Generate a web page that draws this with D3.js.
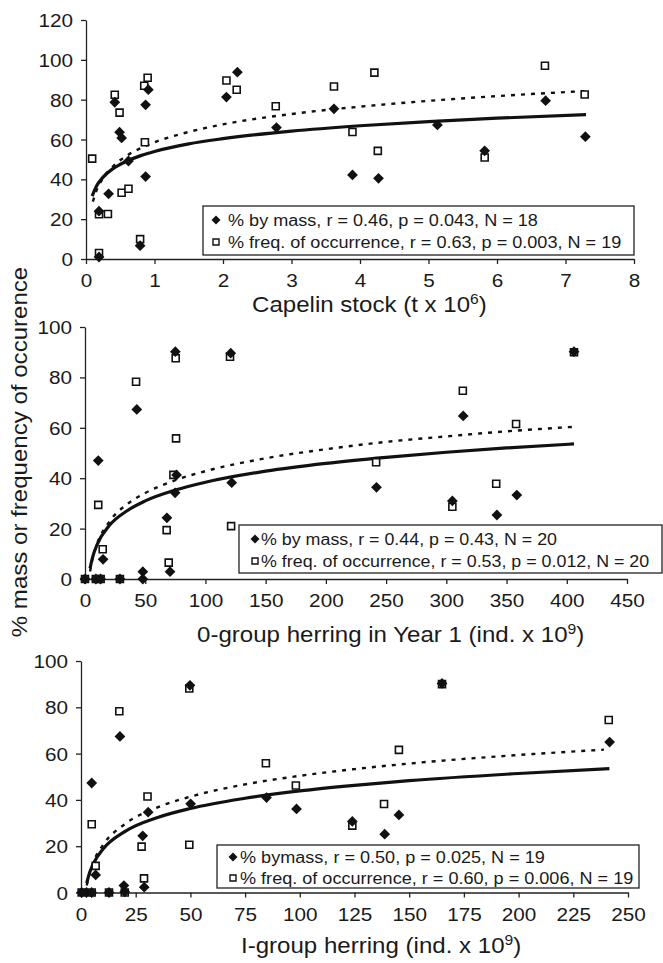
<!DOCTYPE html>
<html>
<head>
<meta charset="utf-8">
<script src="https://cdn.jsdelivr.net/npm/d3@7"></script>
<style>
  body { margin: 0; background: #fff; }
  text { font-family: "Liberation Sans", Arial, sans-serif; fill: #1a1a1a; }
</style>
</head>
<body>
<svg id="chart"></svg>
<script>
// panel 1 : capelin stock
var capMass = [[0.19,1],[0.19,24],[0.33,32.7],[0.42,78.7],[0.49,63.7],[0.52,60.8],[0.62,49.2],[0.79,6.7],
  [0.87,77.4],[0.87,41.4],[0.91,85],[2.05,81.3],[2.21,93.8],[2.78,66],[3.62,75.4],[3.89,42.2],[4.27,40.5],
  [5.13,67.3],[5.82,54.3],[6.71,79.5],[7.29,61.4]];
var capFreq = [[0.09,50.4],[0.19,3],[0.19,22.5],[0.32,22.6],[0.42,82.5],[0.49,73.5],[0.52,33.3],[0.62,35.3],
  [0.79,10],[0.85,87],[0.90,91],[0.86,58.6],[2.05,89.6],[2.2,85],[2.77,76.7],[3.62,86.6],[3.89,63.8],
  [4.21,93.6],[4.26,54.3],[5.82,51],[6.70,97],[7.28,82.6]];
var capMassTrend = [[0.09,31.6],[0.15,36.4],[0.25,41.1],[0.4,45.5],[0.6,49.2],[0.8,51.9],[1,54],[1.5,57.8],
  [2,60.4],[3,64.2],[4,66.9],[5,69],[6,70.7],[7.3,72.5]];
var capFreqTrend = [[0.1,28.8],[0.15,34.1],[0.25,40.7],[0.4,46.7],[0.6,52],[0.8,55.7],[1,58.6],[1.5,63.8],
  [2,67.6],[3,72.8],[4,76.5],[5,79.4],[6,81.8],[7.28,84.3]];

// panel 2 : 0-group herring
var zeroMass = [[0,0],[9,0],[13,0],[29,0],[48,0],[48,2.9],[11,47],[15,7.8],[43,67.3],[68,24.3],[70.6,2.9],
  [74.8,34.2],[76,41.3],[75,90.2],[121,89.6],[121.8,38.2],[242,36.4],[305,31],[314,64.7],[342,25.4],
  [358.5,33.3],[406,90.2]];
var zeroFreq = [[0,0],[9,0],[13,0],[29,0],[11,29.4],[14.7,11.8],[42.4,78.3],[67.8,19.4],[69.5,6.5],[73.4,41.3],
  [75.6,55.8],[75.3,87.6],[120.4,88.2],[121.3,21],[241.7,46.3],[305,28.7],[313.7,74.7],[341.4,37.8],
  [357.9,61.5],[406,90]];
var zeroMassTrend = [[4.2,4.2],[6,8.1],[10,13.6],[20,21.1],[35,27.1],[50,31],[75,35.3],[100,38.4],[150,42.8],
  [200,45.9],[250,48.3],[300,50.3],[350,52],[406,53.6]];
var zeroFreqTrend = [[4.2,3],[6,7.5],[10,13.9],[20,22.6],[35,29.7],[50,34.1],[75,39.2],[100,42.8],[150,47.9],
  [200,51.5],[250,54.4],[300,56.6],[350,58.6],[406,60.4]];

// panel 3 : I-group herring
var oneMass = [[0.3,0],[2.5,0],[4.9,0],[12.8,0],[20,0.3],[4.9,47.3],[6.7,7.6],[17.8,67.4],[19.6,3],[28.2,24.5],
  [28.9,2.3],[30.7,34.7],[49.8,89.5],[50.1,38.3],[84.8,41],[98.5,36.1],[124,30.7],[138.8,25.2],[145.3,33.5],
  [165,90.3],[241.6,65]];
var oneFreq = [[0.3,0],[4.9,0],[12.8,0],[20,0],[4.9,29.5],[6.7,11.5],[17.5,78.3],[27.7,19.8],[28.8,6.1],
  [30.4,41.5],[49.5,88.1],[49.5,20.6],[84.5,55.8],[98.2,46.2],[124,28.9],[138.5,38.2],[145.3,61.6],
  [165,90],[241.2,74.5]];
var oneMassTrend = [[2.6,4],[4,8.7],[6,13.1],[10,18.7],[20,26.3],[35,32.4],[50,36.3],[75,40.7],[100,43.9],
  [125,46.3],[150,48.3],[200,51.4],[241.5,53.5]];
var oneFreqTrend = [[2.6,3],[4,8.6],[6,13.9],[10,20.5],[20,29.5],[35,36.8],[50,41.4],[75,46.7],[100,50.4],
  [125,53.3],[150,55.7],[200,59.4],[239,61.7]];

var capTicksX = [0,1,2,3,4,5,6,7,8], capTicksY = [0,20,40,60,80,100,120];
var zeroTicksX = [0,50,100,150,200,250,300,350,400,450], herTicksY = [0,20,40,60,80,100];
var oneTicksX = [0,25,50,75,100,125,150,175,200,225,250];

var legend1 = ["% by mass, r = 0.46, p = 0.043, N = 18", "% freq. of occurrence, r = 0.63, p = 0.003, N = 19"];
var legend2 = ["% by mass, r = 0.44, p = 0.43, N = 20", "% freq. of occurrence, r = 0.53, p = 0.012, N = 20"];
var legend3 = ["% bymass, r = 0.50, p = 0.025, N = 19", "% freq. of occurrence, r = 0.60, p = 0.006, N = 19"];

var SX = 1.12; // the figure text is a bit stretched sideways

var svg = d3.select("#chart").attr("width", 663).attr("height", 963);
svg.append("rect").attr("width", 663).attr("height", 963).attr("fill", "#fff");

function stretchText(sel, size, sx){
    sx = sx || SX;
    sel.each(function(){
        var t = d3.select(this);
        var x = +t.attr("x") || 0, y = +t.attr("y") || 0;
        t.attr("x", 0).attr("y", 0)
         .attr("transform", "translate(" + x + "," + y + ") scale(" + sx + ",1)")
         .attr("font-size", size).attr("font-family", "Liberation Sans, Arial, sans-serif")
         .attr("fill", "#1a1a1a");
    });
}

function drawPanel(cfg){
    var x = d3.scaleLinear().domain(cfg.xDom).range(cfg.xRange);
    var y = d3.scaleLinear().domain(cfg.yDom).range(cfg.yRange);
    var g = svg.append("g");

    var xAxis = g.append("g")
        .attr("transform", "translate(0," + cfg.yRange[0] + ")")
        .call(d3.axisBottom(x).tickValues(cfg.xTicks).tickSize(5).tickSizeOuter(0).tickPadding(cfg.xPad));
    var yAxis = g.append("g")
        .attr("transform", "translate(" + cfg.xRange[0] + ",0)")
        .call(d3.axisLeft(y).tickValues(cfg.yTicks).tickSize(5).tickSizeOuter(0).tickPadding(8));
    [xAxis, yAxis].forEach(function(a){
        a.select(".domain").attr("stroke", "#222").attr("stroke-width", 1.3);
        a.selectAll(".tick line").attr("stroke", "#222").attr("stroke-width", 1.3);
    });
    xAxis.selectAll(".tick text").attr("dy", null).attr("y", 5 + cfg.xPad + 13);
    stretchText(xAxis.selectAll(".tick text"), 18.5);
    yAxis.selectAll(".tick text").attr("dy", null).attr("y", 6.5);
    stretchText(yAxis.selectAll(".tick text"), 18.5);

    var line = d3.line().x(function(d){ return x(d[0]); }).y(function(d){ return y(d[1]); })
        .curve(d3.curveMonotoneX);
    g.append("path").attr("d", line(cfg.freqTrend)).attr("fill", "none")
        .attr("stroke", "#111").attr("stroke-width", 2.4).attr("stroke-dasharray", "4,6");
    g.append("path").attr("d", line(cfg.massTrend)).attr("fill", "none")
        .attr("stroke", "#111").attr("stroke-width", 3.2);

    g.append("g").selectAll("path").data(cfg.freq).enter().append("path")
        .attr("d", d3.symbol(d3.symbolSquare, 49))
        .attr("transform", function(d){ return "translate(" + x(d[0]) + "," + y(d[1]) + ")"; })
        .attr("fill", "#fff").attr("stroke", "#111").attr("stroke-width", 1.6);
    g.append("g").selectAll("path").data(cfg.mass).enter().append("path")
        .attr("d", d3.symbol(d3.symbolSquare, 58))
        .attr("transform", function(d){ return "translate(" + x(d[0]) + "," + y(d[1]) + ") rotate(45)"; })
        .attr("fill", "#111");

    // legend box
    var lg = cfg.legend;
    g.append("rect").attr("x", lg.x).attr("y", lg.y).attr("width", lg.w).attr("height", lg.h)
        .attr("fill", "#fff").attr("stroke", "#222").attr("stroke-width", 1.3);
    g.append("path").attr("d", d3.symbol(d3.symbolSquare, 40))
        .attr("transform", "translate(" + lg.mx + "," + lg.l1 + ") rotate(45)").attr("fill", "#111");
    g.append("path").attr("d", d3.symbol(d3.symbolSquare, 36))
        .attr("transform", "translate(" + lg.mx + "," + lg.l2 + ")")
        .attr("fill", "#fff").attr("stroke", "#111").attr("stroke-width", 1.4);
    var lt = g.append("g").selectAll("text").data(lg.text).enter().append("text")
        .attr("x", lg.tx).attr("y", function(d, i){ return (i == 0 ? lg.l1 : lg.l2) + 6; })
        .text(function(d){ return d; });
    stretchText(lt, lg.fs, 1.13);

    // x title with superscript
    var tt = g.append("text").attr("x", cfg.title.x).attr("y", cfg.title.y);
    tt.append("tspan").text(cfg.title.main);
    tt.append("tspan").attr("dy", -8).attr("font-size", 14).text(cfg.title.sup);
    tt.append("tspan").attr("dy", 8).text(")");
    stretchText(tt, 21.5);
}

drawPanel({
    xDom: [0, 8], xRange: [86, 634], yDom: [0, 120], yRange: [259, 20],
    xTicks: capTicksX, yTicks: capTicksY, xPad: 10,
    mass: capMass, freq: capFreq, massTrend: capMassTrend, freqTrend: capFreqTrend,
    legend: {x: 203, y: 206, w: 431, h: 49, mx: 216, tx: 228, l1: 220, l2: 242, fs: 16, text: legend1},
    title: {x: 252, y: 312, main: "Capelin stock (t x 10", sup: "6"}
});

drawPanel({
    xDom: [0, 450], xRange: [85, 627], yDom: [0, 100], yRange: [579, 327],
    xTicks: zeroTicksX, yTicks: herTicksY, xPad: 10,
    mass: zeroMass, freq: zeroFreq, massTrend: zeroMassTrend, freqTrend: zeroFreqTrend,
    legend: {x: 239, y: 525, w: 423, h: 48, mx: 255, tx: 261, l1: 539, l2: 561, fs: 15.8, text: legend2},
    title: {x: 197, y: 642, main: "0-group herring in Year 1 (ind. x 10", sup: "9"}
});

drawPanel({
    xDom: [0, 250], xRange: [81, 628], yDom: [0, 100], yRange: [892.5, 661],
    xTicks: oneTicksX, yTicks: herTicksY, xPad: 10,
    mass: oneMass, freq: oneFreq, massTrend: oneMassTrend, freqTrend: oneFreqTrend,
    legend: {x: 217, y: 845, w: 422, h: 43, mx: 233, tx: 240, l1: 857, l2: 878, fs: 16, text: legend3},
    title: {x: 241, y: 953, main: "I-group herring (ind. x 10", sup: "9"}
});

// shared y title
var yt = svg.append("g").attr("transform", "translate(27,452) rotate(-90)")
    .append("text").attr("text-anchor", "middle").text("% mass or frequency of occurence");
stretchText(yt, 21.5);
</script>
</body>
</html>
